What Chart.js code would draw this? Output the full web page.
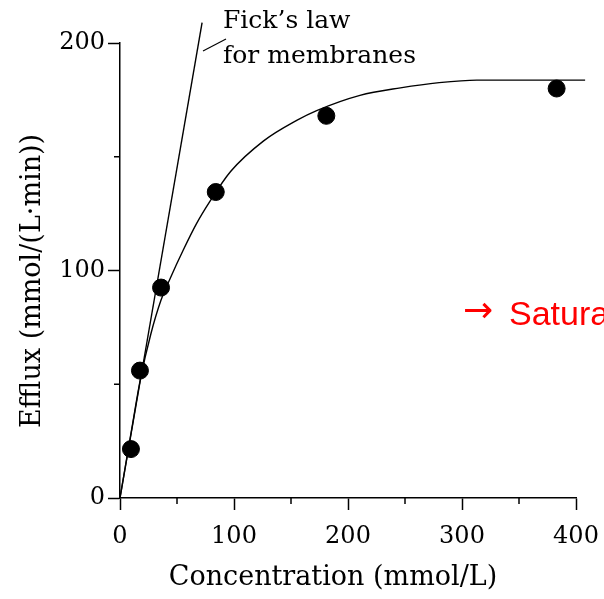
<!DOCTYPE html>
<html>
<head>
<meta charset="utf-8">
<script src="https://cdn.jsdelivr.net/npm/chart.js@4/dist/chart.umd.min.js"></script>
<style>
  html, body { margin: 0; padding: 0; background: #fff; }
  #wrap { width: 604px; height: 599px; }
</style>
</head>
<body>
<div id="wrap"><canvas id="chart"></canvas></div>
<script>
const measuredConc = [9.6, 17.5, 36, 84, 181, 383]
const measuredEfflux = [21.5, 56, 92.5, 134.5, 168, 180]

// fitted saturation curve
const fitConc = [0, 10, 18, 27, 36, 44, 55.5, 67, 79, 97, 126, 155, 172.5, 210.5, 246, 280, 313, 408]
const fitEfflux = [0, 29.5, 52.5, 72, 87, 96.5, 109, 120.5, 130.5, 143.5, 157, 166, 170.3, 177, 180.3, 182.6, 183.7, 183.7]

// Fick's law straight line
const fickConc = [0, 72]
const fickEfflux = [0, 209]

const xMajor = [0, 100, 200, 300, 400]
const xMinor = [50, 150, 250, 350]
const yMajor = [0, 100, 200]
const yMinor = [50, 150]

const serif = "'DejaVu Serif', serif"
const toXY = (xs, ys) => xs.map((x, i) => ({ x: x, y: ys[i] }))

// minor ticks + annotations + axis titles
const extras = {
  id: 'extras',
  afterDraw(chart) {
    const { ctx, chartArea, scales } = chart
    const x = scales.x, y = scales.y
    ctx.save()
    ctx.strokeStyle = '#000'
    ctx.lineWidth = 1.5
    xMinor.forEach(v => {
      const px = x.getPixelForValue(v)
      ctx.beginPath(); ctx.moveTo(px, chartArea.bottom); ctx.lineTo(px, chartArea.bottom + 6); ctx.stroke()
    })
    yMinor.forEach(v => {
      const py = y.getPixelForValue(v)
      ctx.beginPath(); ctx.moveTo(chartArea.left, py); ctx.lineTo(chartArea.left - 6, py); ctx.stroke()
    })

    // leader line for the Fick label
    ctx.lineWidth = 1.2
    ctx.beginPath(); ctx.moveTo(203, 51); ctx.lineTo(226, 39); ctx.stroke()

    ctx.fillStyle = '#000'
    ctx.font = '25px ' + serif
    ctx.textAlign = 'left'
    ctx.textBaseline = 'alphabetic'
    ctx.fillText('Fick\u2019s law', 223, 28)
    ctx.fillText('for membranes', 223, 63)

    // axis titles
    ctx.font = '27px ' + serif
    ctx.textAlign = 'center'
    ctx.textBaseline = 'middle'
    ctx.fillText('Concentration (mmol/L)', 333, 578)
    ctx.save()
    ctx.translate(33, 281)
    ctx.rotate(-Math.PI / 2)
    ctx.fillText('Efflux (mmol/(L\u00b7min))', 0, 0)
    ctx.restore()

    // red note
    ctx.fillStyle = '#ff0000'
    ctx.textAlign = 'left'
    ctx.textBaseline = 'middle'
    ctx.font = '36px "DejaVu Sans", sans-serif'
    ctx.fillText('\u2192', 463, 313)
    ctx.textBaseline = 'alphabetic'
    ctx.font = '34px "Liberation Sans", Arial, sans-serif'
    ctx.fillText('Saturation', 509, 325)
    ctx.restore()
  }
}

const tickColor = ctx => (ctx.tick && ctx.tick.value % 100 === 0) ? '#000' : 'rgba(0,0,0,0)'

new Chart(document.getElementById('chart'), {
  type: 'scatter',
  data: {
    datasets: [
      {
        data: toXY(measuredConc, measuredEfflux),
        pointRadius: 8.5,
        pointHoverRadius: 8.5,
        backgroundColor: '#000',
        borderColor: '#000',
        order: 0
      },
      {
        data: toXY(fitConc, fitEfflux),
        showLine: true,
        cubicInterpolationMode: 'monotone',
        pointRadius: 0,
        borderColor: '#000',
        borderWidth: 1.4,
        clip: false,
        order: 1
      },
      {
        data: toXY(fickConc, fickEfflux),
        showLine: true,
        pointRadius: 0,
        borderColor: '#000',
        borderWidth: 1.4,
        clip: false,
        order: 2
      }
    ]
  },
  options: {
    responsive: true,
    maintainAspectRatio: false,
    animation: false,
    events: [],
    layout: { padding: { top: 43, right: 28, left: 0, bottom: 0 } },
    plugins: { legend: { display: false }, tooltip: { enabled: false } },
    scales: {
      x: {
        type: 'linear',
        min: 0,
        max: 400,
        afterFit: s => { s.height = 101; s.paddingLeft = 0; s.paddingRight = 0 },
        afterBuildTicks: s => { s.ticks = xMajor.concat(xMinor).sort((a, b) => a - b).map(v => ({ value: v })) },
        ticks: {
          autoSkip: false,
          maxRotation: 0,
          padding: 12,
          color: '#000',
          font: { family: serif, size: 24 },
          callback: v => xMajor.includes(v) ? String(v) : ''
        },
        grid: { drawOnChartArea: false, tickLength: 12, tickWidth: 1.5, tickColor: tickColor },
        border: { color: '#000', width: 1.5 }
      },
      y: {
        type: 'linear',
        min: 0,
        max: 200,
        afterFit: s => { s.width = 120; s.paddingTop = 0; s.paddingBottom = 0 },
        afterBuildTicks: s => { s.ticks = yMajor.concat(yMinor).sort((a, b) => a - b).map(v => ({ value: v })) },
        ticks: {
          autoSkip: false,
          padding: 3,
          color: '#000',
          font: { family: serif, size: 24 },
          callback: v => yMajor.includes(v) ? String(v) : ''
        },
        grid: { drawOnChartArea: false, tickLength: 12, tickWidth: 1.5, tickColor: tickColor },
        border: { color: '#000', width: 1.5 }
      }
    }
  },
  plugins: [extras]
})
</script>
</body>
</html>
